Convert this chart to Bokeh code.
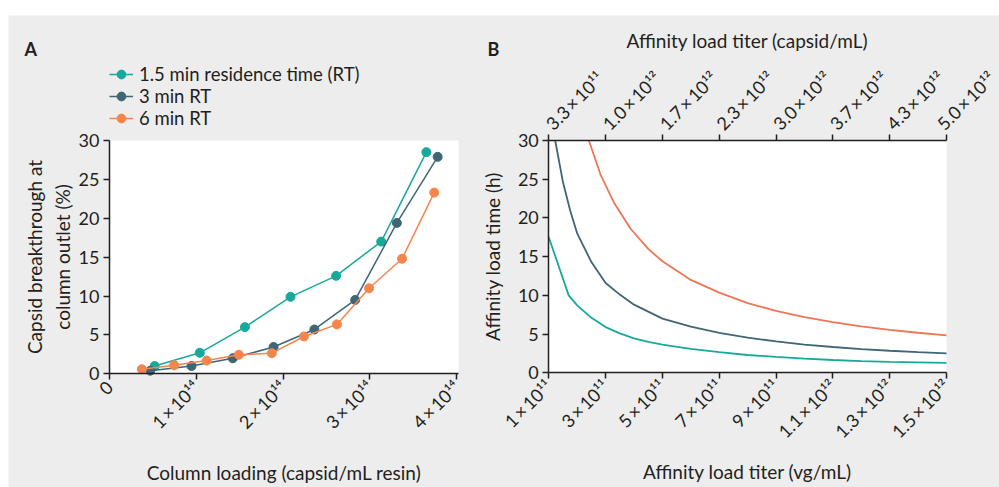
from bokeh.plotting import figure
from bokeh.models import (Range1d, LinearAxis, FixedTicker, Legend, LegendItem, Label,
                          BoxAnnotation)
from bokeh.embed import file_html
from bokeh.resources import INLINE

X = "\u2009×\u2009"

# ---------------- Panel A data ----------------
rt15_x = [0.52e14, 1.04e14, 1.56e14, 2.085e14, 2.61e14, 3.13e14, 3.65e14]
rt15_y = [1.0, 2.7, 6.0, 9.9, 12.6, 17.0, 28.5]
rt3_x = [0.47e14, 0.945e14, 1.42e14, 1.89e14, 2.36e14, 2.83e14, 3.31e14, 3.78e14]
rt3_y = [0.4, 1.0, 2.0, 3.45, 5.7, 9.5, 19.4, 27.9]
rt6_x = [0.372e14, 0.745e14, 1.12e14, 1.49e14, 1.87e14, 2.24e14, 2.62e14, 2.99e14, 3.37e14, 3.74e14]
rt6_y = [0.6, 1.1, 1.7, 2.45, 2.65, 4.8, 6.35, 11.0, 14.8, 23.3]
series_names = ["1.5 min residence time (RT)", "3 min RT", "6 min RT"]
a_xticks = [0, 1e14, 2e14, 3e14, 4e14]
a_xlabels = ["0", "1" + X + "10¹⁴", "2" + X + "10¹⁴", "3" + X + "10¹⁴", "4" + X + "10¹⁴"]
a_yticks = [0, 5, 10, 15, 20, 25, 30]
a_xlim = (0, 4.02e14)
a_ylim = (0, 30)

# ---------------- Panel B data ----------------
b_titer_15 = [1.0e11, 1.7e11, 2.0e11, 2.5e11, 3.0e11, 3.5e11, 4.0e11, 4.5e11, 5.0e11, 6.0e11,
              7.0e11, 8.0e11, 9.0e11, 1.0e12, 1.1e12, 1.2e12, 1.3e12, 1.4e12, 1.5e12]
b_time_15 = [17.5, 10.0, 8.7, 7.1, 5.9, 5.1, 4.45, 4.0, 3.65, 3.1, 2.68, 2.3, 2.05, 1.82,
             1.65, 1.52, 1.42, 1.34, 1.27]
b_titer_3 = [1.225e11, 1.5e11, 1.75e11, 2.0e11, 2.5e11, 3.0e11, 3.5e11, 4.0e11, 5.0e11, 6.0e11,
             7.0e11, 8.0e11, 9.0e11, 1.0e12, 1.1e12, 1.2e12, 1.3e12, 1.4e12, 1.5e12]
b_time_3 = [30.0, 24.6, 21.0, 18.0, 14.3, 11.6, 10.1, 8.8, 7.0, 5.95, 5.15, 4.55, 4.05,
            3.65, 3.33, 3.07, 2.85, 2.66, 2.5]
b_titer_6 = [2.41e11, 2.82e11, 3.29e11, 3.88e11, 4.5e11, 5.0e11, 6.0e11, 7.0e11, 8.0e11,
             9.0e11, 1.0e12, 1.1e12, 1.2e12, 1.3e12, 1.4e12, 1.5e12]
b_time_6 = [30.0, 25.6, 22.0, 18.6, 16.0, 14.4, 12.0, 10.35, 9.0, 8.0, 7.2, 6.55, 6.0, 5.55, 5.17, 4.84]
b_xticks = [1e11, 3e11, 5e11, 7e11, 9e11, 1.1e12, 1.3e12, 1.5e12]
b_xlabels = ["1" + X + "10¹¹", "3" + X + "10¹¹", "5" + X + "10¹¹", "7" + X + "10¹¹",
             "9" + X + "10¹¹", "1.1" + X + "10¹²", "1.3" + X + "10¹²", "1.5" + X + "10¹²"]
b_top_ticks = [3.333e11, 1.0e12, 1.667e12, 2.333e12, 3.0e12, 3.667e12, 4.333e12, 5.0e12]
b_top_labels = ["3.3" + X + "10¹¹", "1.0" + X + "10¹²", "1.7" + X + "10¹²", "2.3" + X + "10¹²",
                "3.0" + X + "10¹²", "3.7" + X + "10¹²", "4.3" + X + "10¹²", "5.0" + X + "10¹²"]
b_yticks = [0, 5, 10, 15, 20, 25, 30]
b_xlim = (1e11, 1.5e12)
b_ylim = (0, 30)
capsid_per_vg = 5.0e12 / 1.5e12

TEAL = "#17a99b"
SLATE = "#3f6676"
ORANGE = "#f4864d"
ORANGE_B = "#ec7656"
INK = "#231f20"
PANEL = "#ededed"
FONT = "Lato"
TICK_FS = "18px"
TITLE_FS = "19px"

# ---------------- layout (pixels inside the single canvas) ----------------
W = 991
H = 472
A_PLOT = dict(left=101, right=450, top=125, bottom=358.3)
B_PLOT = dict(left=540.3, right=938, top=125, bottom=357.3)
B_LETTER_X = 479


def full_range(lo, hi, p_lo, p_hi, total, invert=False):
    # data range covering the whole canvas so that lo..hi sit at pixels p_lo..p_hi
    if invert:  # y: pixel measured from top
        per = (hi - lo) / (p_lo - p_hi)
        return Range1d(lo - (total - p_lo) * per, hi + p_hi * per)
    per = (hi - lo) / (p_hi - p_lo)
    return Range1d(lo - p_lo * per, hi + (total - p_hi) * per)


def style_axis(ax, ticks, labels=None, orient=None, bounds=None):
    ax.ticker = FixedTicker(ticks=ticks)
    if labels is not None:
        ax.major_label_overrides = {t: l for t, l in zip(ticks, labels)}
    if bounds is not None:
        ax.bounds = bounds
    ax.axis_line_color = INK
    ax.axis_line_width = 1.5
    ax.major_tick_line_color = INK
    ax.major_tick_line_width = 1.5
    ax.major_tick_out = 6
    ax.major_tick_in = 0
    ax.minor_tick_out = 0
    ax.minor_tick_in = 0
    ax.major_label_text_font = FONT
    ax.major_label_text_font_size = TICK_FS
    ax.major_label_text_color = INK
    ax.axis_label_text_font = FONT
    ax.axis_label_text_font_size = TITLE_FS
    ax.axis_label_text_font_style = "normal"
    ax.axis_label_text_color = INK
    ax.major_label_standoff = 4
    if orient is not None:
        ax.major_label_orientation = orient


p = figure(width=W, height=H, output_backend="svg", toolbar_location=None,
           x_range=full_range(a_xlim[0], a_xlim[1], A_PLOT["left"], A_PLOT["right"], W),
           y_range=full_range(a_ylim[0], a_ylim[1], A_PLOT["bottom"], A_PLOT["top"], H, invert=True),
           min_border=0, margin=(15, 0, 0, 8))
p.background_fill_color = PANEL
p.border_fill_color = PANEL
p.outline_line_color = None
p.xgrid.visible = False
p.ygrid.visible = False
p.title.visible = False

b_xr = full_range(b_xlim[0], b_xlim[1], B_PLOT["left"], B_PLOT["right"], W)
p.extra_x_ranges = {
    "bx": b_xr,
    "bcap": Range1d(b_xr.start * capsid_per_vg, b_xr.end * capsid_per_vg),
}
p.extra_y_ranges = {
    "by": full_range(b_ylim[0], b_ylim[1], B_PLOT["bottom"], B_PLOT["top"], H, invert=True),
}

# white plotting areas
p.add_layout(BoxAnnotation(left=a_xlim[0], right=a_xlim[1], bottom=a_ylim[0], top=a_ylim[1],
                           fill_color="white", fill_alpha=1, line_color=None, level="underlay"))
p.add_layout(BoxAnnotation(left=b_xlim[0], right=b_xlim[1], bottom=b_ylim[0], top=b_ylim[1],
                           x_range_name="bx", y_range_name="by",
                           fill_color="white", fill_alpha=1, line_color=None, level="underlay"))

# ---------------- Panel A axes ----------------
ax_a_x = p.below[0]
ax_a_y = p.left[0]
ax_a_x.fixed_location = a_ylim[0]
ax_a_y.fixed_location = a_xlim[0]
style_axis(ax_a_x, a_xticks, a_xlabels, orient=0.785398, bounds=a_xlim)
style_axis(ax_a_y, a_yticks, bounds=a_ylim)
ax_a_x.axis_label = "Column loading (capsid/mL resin)"
ax_a_x.axis_label_standoff = 18
ax_a_y.axis_label = "Capsid breakthrough at\ncolumn outlet (%)"
ax_a_y.axis_label_standoff = 2

items = []
for xs, ys, c, name in [(rt15_x, rt15_y, TEAL, series_names[0]),
                        (rt3_x, rt3_y, SLATE, series_names[1]),
                        (rt6_x, rt6_y, ORANGE, series_names[2])]:
    ln = p.line(xs, ys, line_color=c, line_width=1.5)
    sc = p.scatter(xs, ys, size=9, fill_color=c, line_color=c)
    items.append(LegendItem(label=name, renderers=[ln, sc]))

leg = Legend(items=items, location=(A_PLOT["left"], H - 113.5), orientation="vertical")
leg.background_fill_alpha = 0
leg.border_line_color = None
leg.padding = 0
leg.margin = 0
leg.spacing = 0
leg.glyph_width = 24
leg.glyph_height = 22
leg.label_height = 22
leg.label_standoff = 6
leg.label_text_font = FONT
leg.label_text_font_size = "18.5px"
leg.label_text_color = INK
p.add_layout(leg, "center")

p.add_layout(Label(x=16, y=H - 33, x_units="screen", y_units="screen", text="A",
                   text_font=FONT, text_font_style="bold", text_font_size="18px",
                   text_color=INK, text_baseline="alphabetic"))

# ---------------- Panel B axes ----------------
ax_b_x = LinearAxis(x_range_name="bx", y_range_name="by", fixed_location=b_ylim[0])
ax_b_y = LinearAxis(x_range_name="bx", y_range_name="by", fixed_location=b_xlim[0])
ax_b_top = LinearAxis(x_range_name="bcap", y_range_name="by", fixed_location=b_ylim[1])
p.add_layout(ax_b_x, "below")
p.add_layout(ax_b_y, "left")
p.add_layout(ax_b_top, "above")

style_axis(ax_b_x, b_xticks, b_xlabels, orient=0.785398, bounds=b_xlim)
style_axis(ax_b_top, b_top_ticks, b_top_labels, orient=0.785398,
           bounds=(b_xlim[0] * capsid_per_vg, b_xlim[1] * capsid_per_vg))
style_axis(ax_b_y, b_yticks, bounds=b_ylim)
ax_b_x.axis_label = "Affinity load titer (vg/mL)"
ax_b_x.axis_label_standoff = 7
ax_b_top.axis_label = "Affinity load titer (capsid/mL)"
ax_b_top.major_label_standoff = 8
ax_b_top.axis_label_standoff = 4
ax_b_y.axis_label = "Affinity load time (h)"
ax_b_y.axis_label_standoff = 11

p.line(b_titer_15, b_time_15, line_color=TEAL, line_width=1.8, x_range_name="bx", y_range_name="by")
p.line(b_titer_3, b_time_3, line_color=SLATE, line_width=1.8, x_range_name="bx", y_range_name="by")
p.line(b_titer_6, b_time_6, line_color=ORANGE_B, line_width=1.8, x_range_name="bx", y_range_name="by")

p.add_layout(Label(x=B_LETTER_X, y=H - 33, x_units="screen", y_units="screen", text="B",
                   text_font=FONT, text_font_style="bold", text_font_size="18px",
                   text_color=INK, text_baseline="alphabetic"))

with open("out.html", "w") as f:
    f.write(file_html(p, INLINE))
